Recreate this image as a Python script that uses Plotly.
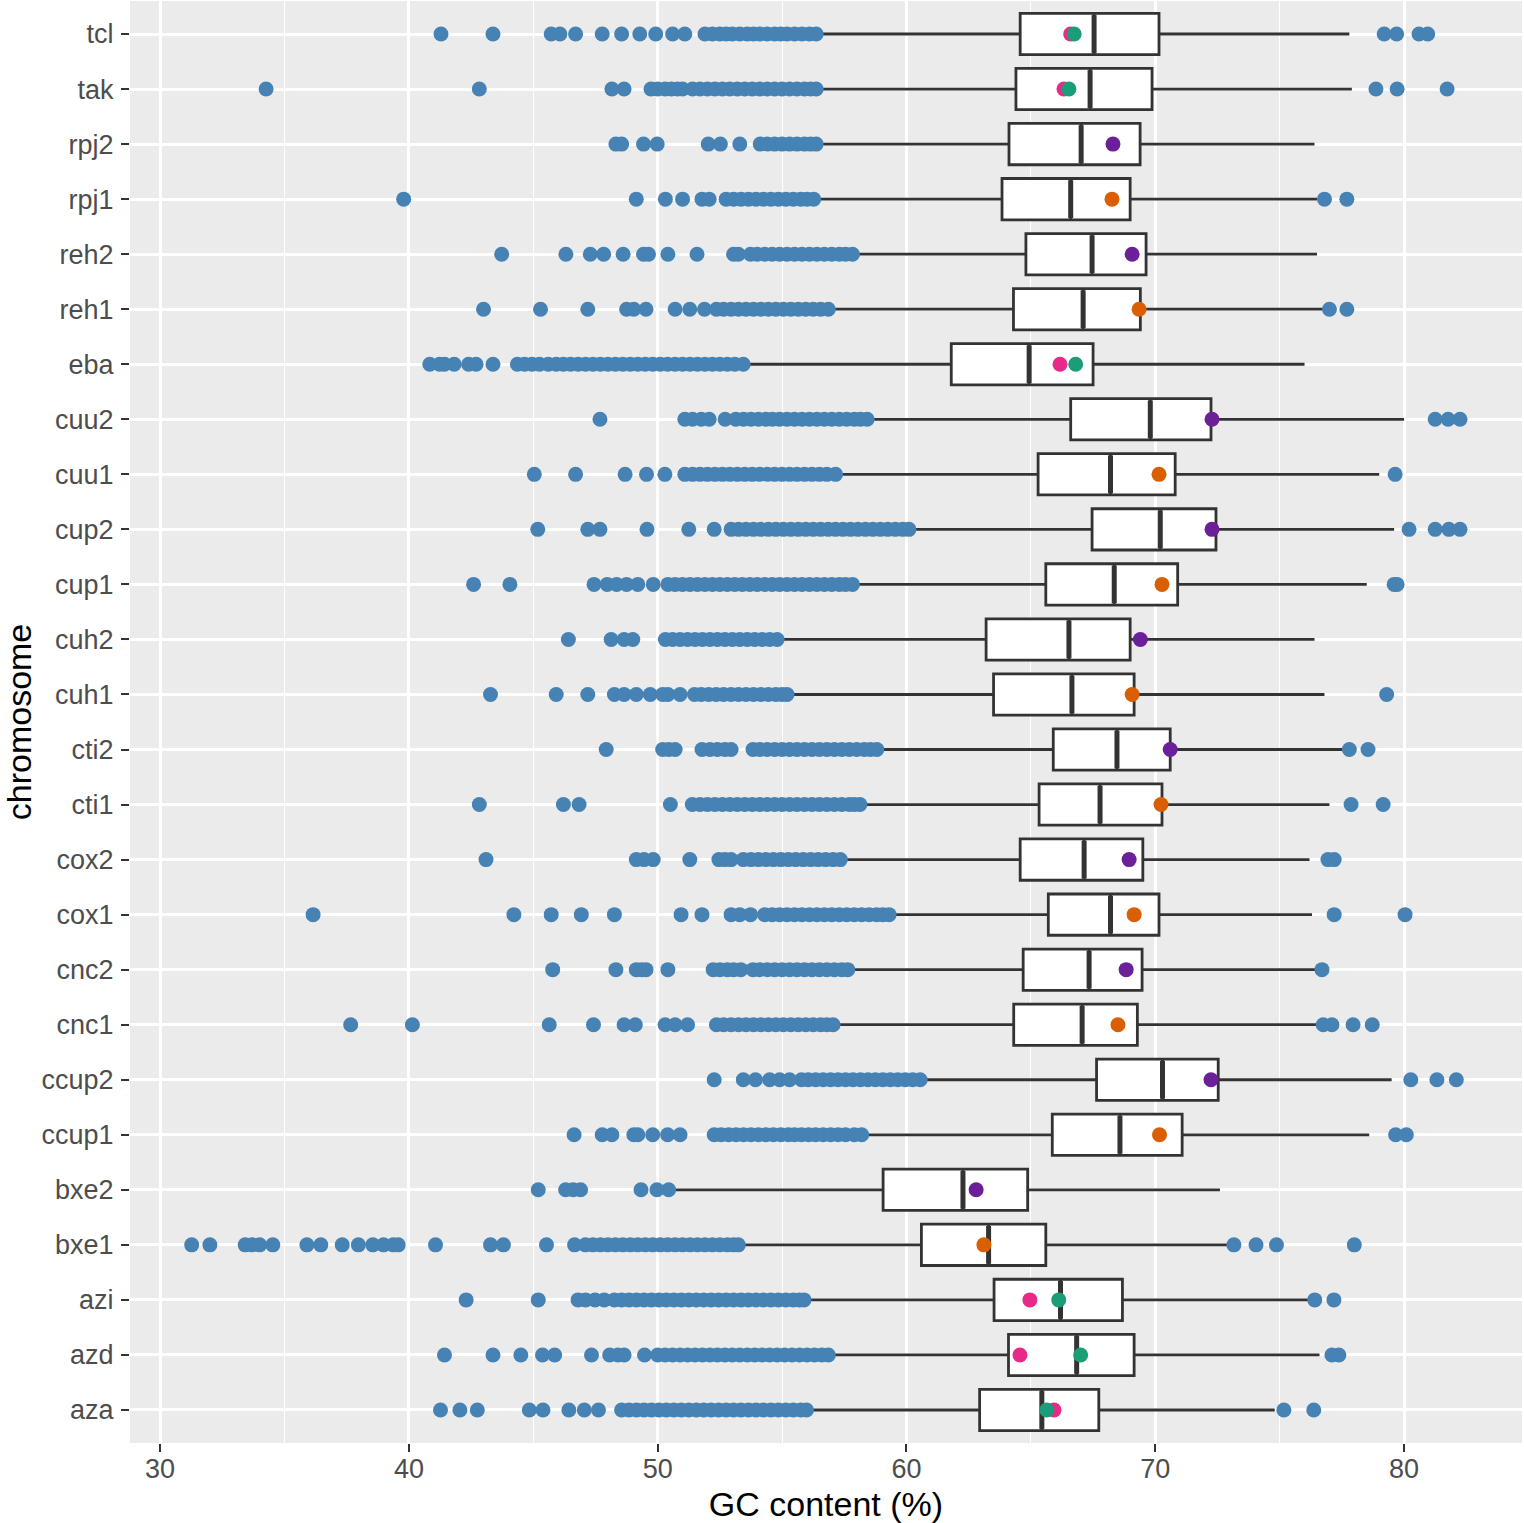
import plotly.graph_objects as go

# chromosomes, bottom to top
chroms = ["aza", "azd", "azi", "bxe1", "bxe2", "ccup1", "ccup2", "cnc1", "cnc2",
          "cox1", "cox2", "cti1", "cti2", "cuh1", "cuh2", "cup1", "cup2", "cuu1",
          "cuu2", "eba", "reh1", "reh2", "rpj1", "rpj2", "tak", "tcl"]

# box statistics (GC %)
q1 = [62.94, 64.1, 63.52, 60.6, 59.06, 65.86, 67.64, 64.31, 64.69,
      65.7, 64.57, 65.33, 65.9, 63.5, 63.2, 65.6, 67.46, 65.29,
      66.6, 61.8, 64.3, 64.8, 63.84, 64.12, 64.4, 64.57]
median = [65.44, 66.84, 66.19, 63.3, 62.27, 68.58, 70.29, 67.06, 67.34,
          68.2, 67.14, 67.78, 68.46, 66.65, 66.53, 68.35, 70.2, 68.2,
          69.8, 64.93, 67.1, 67.46, 66.6, 67.02, 67.38, 67.54]
q3 = [67.73, 69.15, 68.68, 65.6, 64.87, 71.08, 72.53, 69.28, 69.47,
      70.15, 69.5, 70.27, 70.6, 69.15, 68.99, 70.9, 72.44, 70.8,
      72.24, 67.5, 69.4, 69.63, 68.99, 69.39, 69.87, 70.15]
lower = [56.0, 56.9, 56.0, 53.4, 50.6, 58.3, 60.6, 57.1, 57.7,
         59.3, 57.4, 58.2, 58.9, 55.2, 54.8, 57.9, 60.2, 57.2,
         58.5, 53.5, 56.9, 57.9, 56.3, 56.4, 56.4, 56.5]
upper = [74.8, 76.6, 76.3, 73.0, 72.6, 78.6, 79.5, 76.6, 76.6,
         76.3, 76.2, 77.0, 77.6, 76.8, 76.4, 78.5, 79.6, 79.0,
         80.0, 76.0, 76.8, 76.5, 76.5, 76.4, 77.9, 77.8]

# outliers per chromosome
out_aza = [41.27, 42.05, 42.75, 44.84, 45.39, 46.43, 47.05, 47.62, 48.55, 48.85, 49.15, 49.45,
           49.75, 50.05, 50.35, 50.65, 50.95, 51.25, 51.55, 51.85, 52.15, 52.45, 52.75, 53.05,
           53.35, 53.65, 53.95, 54.25, 54.55, 54.85, 55.15, 55.45, 55.75, 55.98, 75.17, 76.37]
out_azd = [41.43, 43.38, 44.5, 45.37, 45.86, 47.34, 48.07, 48.4, 48.65, 49.47, 50.0, 50.3, 50.6,
           50.9, 51.2, 51.5, 51.8, 52.1, 52.4, 52.7, 53.0, 53.3, 53.6, 53.9, 54.2, 54.5, 54.8,
           55.1, 55.4, 55.7, 56.0, 56.3, 56.6, 56.86, 77.1, 77.38]
out_azi = [42.3, 45.2, 46.8, 47.1, 47.48, 47.85, 48.26, 48.55, 48.85, 49.15, 49.45, 49.75, 50.05,
           50.35, 50.65, 50.95, 51.25, 51.55, 51.85, 52.15, 52.45, 52.75, 53.05, 53.35, 53.65,
           53.95, 54.25, 54.55, 54.85, 55.15, 55.45, 55.7, 55.88, 76.41, 77.18]
out_bxe1 = [31.27, 32.0, 33.42, 33.7, 34.0, 34.53, 35.9, 36.46, 37.32, 37.97, 38.55, 38.98, 39.37,
            39.57, 41.07, 43.28, 43.8, 45.53, 46.66, 47.1, 47.4, 47.7, 48.0, 48.3, 48.6, 48.9,
            49.2, 49.5, 49.8, 50.1, 50.4, 50.7, 51.0, 51.3, 51.6, 51.9, 52.2, 52.5, 52.8, 53.05,
            53.24, 73.16, 74.05, 74.87, 78.0]
out_bxe2 = [45.2, 46.3, 46.6, 46.9, 49.33, 49.97, 50.44]
out_ccup1 = [46.64, 47.77, 48.16, 49.04, 49.2, 49.8, 50.4, 50.9, 52.27, 52.55, 52.85, 53.15, 53.45,
             53.75, 54.05, 54.35, 54.65, 54.95, 55.25, 55.5, 55.78, 56.07, 56.35, 56.65, 56.95,
             57.25, 57.55, 57.9, 58.2, 79.66, 80.09]
out_ccup2 = [52.27, 53.44, 53.93, 54.5, 54.9, 55.3, 55.78, 56.05, 56.35, 56.65, 56.95, 57.25,
             57.55, 57.85, 58.15, 58.45, 58.75, 59.05, 59.35, 59.65, 59.95, 60.25, 60.55, 80.27,
             81.32, 82.1]
out_cnc1 = [37.66, 40.14, 45.64, 47.42, 48.65, 49.1, 50.3, 50.7, 51.2, 52.36, 52.65, 52.95, 53.25,
            53.55, 53.85, 54.15, 54.45, 54.75, 55.05, 55.35, 55.65, 55.95, 56.25, 56.55, 56.8,
            57.05, 76.75, 77.1, 77.95, 78.72]
out_cnc2 = [45.78, 48.32, 49.14, 49.35, 49.53, 50.41, 52.23, 52.5, 52.8, 53.05, 53.34, 53.83, 54.1,
            54.4, 54.7, 55.0, 55.3, 55.6, 55.9, 56.2, 56.5, 56.8, 57.1, 57.4, 57.64, 76.7]
out_cox1 = [36.15, 44.22, 45.72, 46.93, 48.26, 50.94, 51.78, 52.95, 53.3, 53.73, 54.3, 54.6, 54.9,
            55.2, 55.5, 55.8, 56.1, 56.4, 56.7, 57.0, 57.3, 57.6, 57.9, 58.2, 58.5, 58.8, 59.05,
            59.3, 77.19, 80.04]
out_cox2 = [43.1, 49.14, 49.45, 49.82, 51.29, 52.46, 52.7, 52.95, 53.44, 53.75, 54.05, 54.35,
            54.65, 54.95, 55.25, 55.55, 55.85, 56.15, 56.45, 56.75, 57.05, 57.34, 76.94, 77.19]
out_cti1 = [42.83, 46.21, 46.84, 50.51, 51.39, 51.7, 52.0, 52.3, 52.6, 52.9, 53.2, 53.5, 53.8,
            54.1, 54.4, 54.7, 55.0, 55.3, 55.6, 55.9, 56.2, 56.5, 56.8, 57.1, 57.4, 57.7, 57.9,
            58.13, 77.87, 79.16]
out_cti2 = [47.93, 50.2, 50.45, 50.7, 51.78, 52.1, 52.4, 52.7, 52.95, 53.83, 54.1, 54.4, 54.7,
            55.0, 55.3, 55.6, 55.9, 56.2, 56.5, 56.8, 57.1, 57.4, 57.7, 58.0, 58.3, 58.55, 58.81,
            77.8, 78.55]
out_cuh1 = [43.28, 45.92, 47.19, 48.26, 48.65, 49.14, 49.7, 50.2, 50.41, 50.9, 51.48, 51.75, 52.05,
            52.35, 52.65, 52.95, 53.25, 53.55, 53.85, 54.15, 54.45, 54.75, 55.0, 55.2, 79.3]
out_cuh2 = [46.41, 48.13, 48.65, 49.0, 50.31, 50.6, 50.9, 51.2, 51.5, 51.8, 52.1, 52.4, 52.7,
            53.0, 53.3, 53.6, 53.9, 54.2, 54.5, 54.8]
out_cup1 = [42.6, 44.06, 47.44, 47.97, 48.35, 48.75, 49.2, 49.82, 50.41, 50.7, 51.0, 51.3, 51.6,
            51.9, 52.2, 52.5, 52.8, 53.1, 53.4, 53.7, 54.0, 54.3, 54.6, 54.9, 55.2, 55.5, 55.8,
            56.1, 56.4, 56.7, 57.0, 57.3, 57.55, 57.83, 79.6, 79.72]
out_cup2 = [45.18, 47.19, 47.68, 49.57, 51.25, 52.27, 52.95, 53.25, 53.55, 53.85, 54.15, 54.45,
            54.75, 55.05, 55.35, 55.65, 55.95, 56.25, 56.55, 56.85, 57.15, 57.45, 57.75, 58.05,
            58.35, 58.65, 58.95, 59.25, 59.55, 59.85, 60.1, 80.2, 81.25, 81.8, 82.25]
out_cuu1 = [45.04, 46.7, 48.69, 49.55, 50.29, 51.09, 51.4, 51.7, 52.0, 52.3, 52.6, 52.9, 53.2,
            53.5, 53.8, 54.1, 54.4, 54.7, 55.0, 55.3, 55.6, 55.9, 56.2, 56.5, 56.8, 57.15, 79.64]
out_cuu2 = [47.68, 51.09, 51.4, 51.75, 52.07, 52.71, 53.14, 53.45, 53.75, 54.05, 54.35, 54.61,
            54.9, 55.2, 55.5, 55.8, 56.1, 56.4, 56.7, 57.0, 57.3, 57.6, 57.9, 58.15, 58.42, 81.25,
            81.77, 82.25]
out_eba = [40.84, 41.23, 41.43, 41.82, 42.4, 42.7, 43.38, 44.36, 44.65, 44.95, 45.25, 45.6, 45.92,
           46.21, 46.5, 46.8, 47.1, 47.4, 47.7, 48.0, 48.3, 48.6, 48.9, 49.2, 49.5, 49.8, 50.1,
           50.4, 50.7, 51.0, 51.3, 51.6, 51.9, 52.2, 52.5, 52.8, 53.1, 53.44]
out_reh1 = [43.0, 45.29, 47.19, 48.75, 49.04, 49.53, 50.7, 51.29, 51.88, 52.36, 52.65, 52.95,
            53.25, 53.55, 53.85, 54.15, 54.45, 54.75, 55.05, 55.35, 55.65, 55.95, 56.25, 56.55,
            56.86, 77.0, 77.7]
out_reh2 = [43.73, 46.31, 47.29, 47.83, 48.61, 49.43, 49.63, 50.41, 51.58, 53.05, 53.24, 53.73,
            54.0, 54.3, 54.6, 54.9, 55.2, 55.5, 55.8, 56.1, 56.4, 56.7, 57.0, 57.3, 57.55, 57.83]
out_rpj1 = [39.79, 49.14, 50.31, 51.0, 51.78, 52.07, 52.75, 53.05, 53.35, 53.65, 53.95, 54.25,
            54.55, 54.85, 55.15, 55.45, 55.75, 56.0, 56.27, 76.8, 77.7]
out_rpj2 = [48.32, 48.55, 49.43, 49.98, 52.03, 52.52, 53.3, 54.12, 54.4, 54.7, 55.0, 55.3, 55.6,
            55.9, 56.15, 56.37]
out_tak = [34.26, 42.83, 48.16, 48.65, 49.73, 50.0, 50.3, 50.55, 50.8, 51.0, 51.4, 51.7, 52.0,
           52.3, 52.6, 52.9, 53.2, 53.5, 53.8, 54.1, 54.4, 54.7, 55.0, 55.3, 55.6, 55.9, 56.15,
           56.37, 78.87, 79.72, 81.73]
out_tcl = [41.29, 43.38, 45.72, 46.07, 46.7, 47.77, 48.55, 49.28, 49.92, 50.6, 51.09, 51.9, 52.2,
           52.5, 52.75, 53.0, 53.3, 53.6, 53.85, 54.1, 54.4, 54.7, 54.95, 55.2, 55.5, 55.8, 56.1,
           56.37, 79.2, 79.7, 80.6, 80.95]

outliers = [out_aza, out_azd, out_azi, out_bxe1, out_bxe2, out_ccup1, out_ccup2, out_cnc1,
            out_cnc2, out_cox1, out_cox2, out_cti1, out_cti2, out_cuh1, out_cuh2, out_cup1,
            out_cup2, out_cuu1, out_cuu2, out_eba, out_reh1, out_reh2, out_rpj1, out_rpj2,
            out_tak, out_tcl]

# highlighted values
chr1_names = ["bxe1", "ccup1", "cnc1", "cox1", "cti1", "cuh1", "cup1", "cuu1", "reh1", "rpj1"]
chr1_vals = [63.11, 70.17, 68.5, 69.15, 70.23, 69.07, 70.27, 70.15, 69.35, 68.26]
chr2_names = ["bxe2", "ccup2", "cnc2", "cox2", "cti2", "cuh2", "cup2", "cuu2", "reh2", "rpj2"]
chr2_vals = [62.8, 72.24, 68.83, 68.95, 70.6, 69.4, 72.28, 72.28, 69.07, 68.3]
single_names = ["aza", "azd", "azi", "eba", "tak", "tcl"]
pink_vals = [65.93, 64.56, 64.96, 66.17, 66.33, 66.6]
green_vals = [65.64, 67.0, 66.12, 66.8, 66.53, 66.74]

out_x, out_y = [], []
for name, vals in zip(chroms, outliers):
    out_x += vals
    out_y += [name] * len(vals)

fig = go.Figure()

fig.add_trace(go.Box(
    y=chroms, q1=q1, median=median, q3=q3, lowerfence=lower, upperfence=upper,
    orientation="h", boxpoints=False, width=0.75, whiskerwidth=0,
    fillcolor="white", line=dict(color="#333333", width=2.8),
))

fig.add_trace(go.Scatter(
    x=out_x, y=out_y, mode="markers",
    marker=dict(color="#4682B4", size=15, line=dict(width=0)),
))

# thicker median line like ggplot
fig.add_trace(go.Scatter(
    x=median, y=chroms, mode="markers",
    marker=dict(symbol="line-ns", size=27, line=dict(color="#333333", width=5)),
))

fig.add_trace(go.Scatter(x=chr1_vals, y=chr1_names, mode="markers",
                         marker=dict(color="#D95F02", size=15, line=dict(width=0))))
fig.add_trace(go.Scatter(x=chr2_vals, y=chr2_names, mode="markers",
                         marker=dict(color="#6B1F98", size=15, line=dict(width=0))))
fig.add_trace(go.Scatter(x=pink_vals, y=single_names, mode="markers",
                         marker=dict(color="#E7298A", size=15, line=dict(width=0))))
fig.add_trace(go.Scatter(x=green_vals, y=single_names, mode="markers",
                         marker=dict(color="#1B9E77", size=15, line=dict(width=0))))

fig.update_layout(
    width=1524, height=1523,
    margin=dict(l=130, r=2, t=1, b=80),
    paper_bgcolor="white", plot_bgcolor="#EBEBEB",
    showlegend=False,
    font=dict(family="Liberation Sans, Arial, sans-serif", color="black"),
)

fig.update_xaxes(
    range=[28.79, 84.74], tickvals=[30, 40, 50, 60, 70, 80],
    showgrid=True, gridcolor="white", gridwidth=2.5, zeroline=False,
    minor=dict(tickvals=[35, 45, 55, 65, 75], showgrid=True, gridcolor="white", gridwidth=1.2),
    ticks="outside", ticklen=8, tickwidth=2, tickcolor="#333333",
    tickfont=dict(size=27, color="#4D4D4D"), ticklabelstandoff=-6,
    title=dict(text="GC content (%)", font=dict(size=34), standoff=18),
    showline=False, automargin=False,
)

fig.update_yaxes(
    type="category", categoryorder="array", categoryarray=chroms,
    range=[-0.6, 25.6],
    showgrid=True, gridcolor="white", gridwidth=2.5, zeroline=False,
    ticks="outside", ticklen=8, tickwidth=2, tickcolor="#333333",
    tickfont=dict(size=27, color="#4D4D4D"), ticklabelstandoff=2,
    title=dict(text="chromosome", font=dict(size=34), standoff=20),
    showline=False, automargin=False,
)

# drop the browser's default page margin so the figure sits at the top-left corner
fig.write_html("out.html", config={"displayModeBar": False},
               post_script="document.body.style.margin = '0';")
